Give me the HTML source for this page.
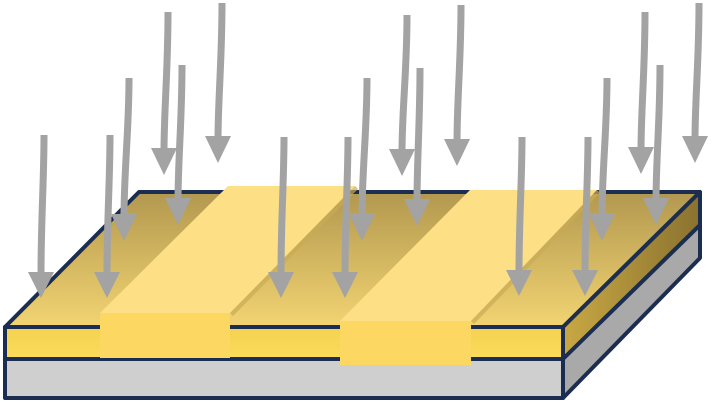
<!DOCTYPE html>
<html><head><style>html,body{margin:0;padding:0;background:#fff}svg{display:block}</style></head><body>
<svg width="724" height="403" viewBox="0 0 724 403" xmlns="http://www.w3.org/2000/svg">
<defs>
<linearGradient id="top" x1="0" y1="192" x2="0" y2="327" gradientUnits="userSpaceOnUse">
<stop offset="0" stop-color="#b2984f"/><stop offset="1" stop-color="#f2d472"/></linearGradient>
<linearGradient id="side" x1="563" y1="0" x2="700" y2="0" gradientUnits="userSpaceOnUse">
<stop offset="0" stop-color="#c9a843"/><stop offset="1" stop-color="#8a7230"/></linearGradient>
<linearGradient id="front" x1="0" y1="330" x2="0" y2="358" gradientUnits="userSpaceOnUse">
<stop offset="0" stop-color="#f5d252"/><stop offset="1" stop-color="#fbdb5a"/></linearGradient>
</defs>
<g stroke="#1b2d50" stroke-width="4" stroke-linejoin="round">
<polygon points="5,327 563,327 700,192 139,192" fill="url(#top)"/>
<polygon points="563,327 700,192 700,225 563,359" fill="url(#side)"/>
<polygon points="563,359 700,225 700,258 563,398" fill="#a9a9a9"/>
<rect x="5" y="327" width="558" height="32" fill="url(#front)"/>
<rect x="5" y="359" width="558" height="39" fill="#d0cfd0"/>
</g>
<!-- strips -->
<polygon points="100,313 228,186 355,186 230,313" fill="#fddf86"/>
<polygon points="230,313 355,186 358,189 233,316" fill="#c9ab55" opacity="0.7"/>
<rect x="100" y="313" width="130" height="45" fill="#fcd862"/>
<polygon points="340,321 470,190 597,190 471,321" fill="#fddf86"/>
<polygon points="471,321 597,190 600,193 474,324" fill="#c9ab55" opacity="0.7"/>
<rect x="340" y="321" width="131" height="44" fill="#fcd862"/>
<g fill="#a3a3a3" stroke="#a3a3a3" stroke-width="7">
<path d="M44,135 C44,180 41,220 41,275" fill="none"/><polygon stroke="none" points="28,272 54,272 41,298"/>
<path d="M110,135 C110,180 107,220 107,275" fill="none"/><polygon stroke="none" points="94,272 120,272 107,298"/>
<path d="M129,78 C129,130 124,170 124,218" fill="none"/><polygon stroke="none" points="111,214 137,214 124,241"/>
<path d="M168,12 C168,70 164,110 164,152" fill="none"/><polygon stroke="none" points="151,148 177,148 164,175"/>
<path d="M182,65 C182,120 178,160 178,202" fill="none"/><polygon stroke="none" points="165,198 191,198 178,225"/>
<path d="M222,3 C222,60 218,100 218,140" fill="none"/><polygon stroke="none" points="205,136 231,136 218,163"/>
<path d="M284,137 C284,180 281,220 281,275" fill="none"/><polygon stroke="none" points="268,272 294,272 281,298"/>
<path d="M348,137 C348,180 345,220 345,275" fill="none"/><polygon stroke="none" points="332,272 358,272 345,298"/>
<path d="M367,78 C367,130 362,170 362,218" fill="none"/><polygon stroke="none" points="349,214 375,214 362,241"/>
<path d="M407,15 C407,70 402,110 402,153" fill="none"/><polygon stroke="none" points="389,149 415,149 402,176"/>
<path d="M420,68 C420,120 417,160 417,203" fill="none"/><polygon stroke="none" points="404,199 430,199 417,226"/>
<path d="M461,5 C461,60 457,100 457,143" fill="none"/><polygon stroke="none" points="444,139 470,139 457,166"/>
<path d="M522,137 C522,180 519,220 519,273" fill="none"/><polygon stroke="none" points="506,270 532,270 519,296"/>
<path d="M588,137 C588,180 585,220 585,273" fill="none"/><polygon stroke="none" points="572,270 598,270 585,296"/>
<path d="M607,78 C607,130 602,170 602,218" fill="none"/><polygon stroke="none" points="589,214 615,214 602,241"/>
<path d="M645,12 C645,70 641,110 641,151" fill="none"/><polygon stroke="none" points="628,147 654,147 641,174"/>
<path d="M660,65 C660,120 656,160 656,202" fill="none"/><polygon stroke="none" points="643,198 669,198 656,225"/>
<path d="M699,3 C699,60 695,100 695,140" fill="none"/><polygon stroke="none" points="682,136 708,136 695,163"/>
</g>
</svg>
</body></html>
